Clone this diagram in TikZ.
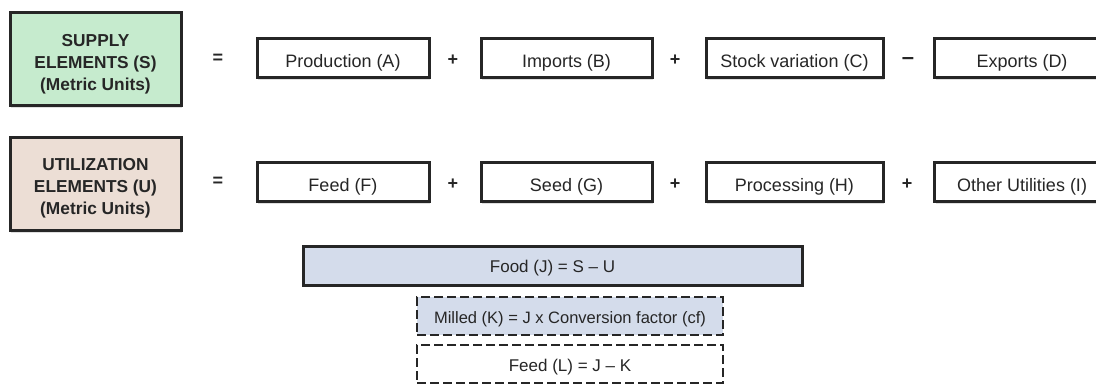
\documentclass[tikz,border=0pt]{standalone}
\usepackage{fontspec}
\setmainfont{Liberation Sans}
\usepackage{xcolor}
\usetikzlibrary{shadows}
\definecolor{supplygreen}{RGB}{198,235,206}
\definecolor{utilpink}{RGB}{236,222,213}
\definecolor{foodblue}{RGB}{212,220,235}
\begin{document}
\begin{tikzpicture}[x=1pt, y=-1pt,
    every node/.style={font=\fontsize{18}{22}\selectfont, text=black!85},
    elem/.style={draw=black!85, line width=3pt, minimum width=171pt, minimum height=93pt,
        drop shadow={opacity=0.25, shadow xshift=1pt, shadow yshift=-2pt}},
    elemtext/.style={align=center, font=\fontsize{17.3}{21.8}\selectfont\bfseries},
    term/.style={draw=black!85, line width=3pt, fill=white, minimum height=39pt,
        text height=18pt, text depth=0pt,
        drop shadow={opacity=0.25, shadow xshift=1pt, shadow yshift=-2pt}},
    dashbox/.style={draw=black!85, line width=2.8pt, dash pattern=on 9pt off 4pt,
        minimum width=306pt, minimum height=38pt, text height=15pt, text depth=0pt},
    op/.style={font=\fontsize{18}{22}\selectfont\bfseries}]
    \useasboundingbox (0, 0) rectangle (1096, 385);
    % left hand side
    \node[elem, fill=supplygreen] (supply) at (95.5, 59.5) {};
    \node[elemtext] (supplytxt) at ([yshift=-4.5pt]supply.center) {SUPPLY\\ELEMENTS (S)\\(Metric Units)};
    \node[elem, fill=utilpink] (util) at (95.5, 184) {};
    \node[elemtext] (utiltxt) at ([yshift=-4.5pt]util.center) {UTILIZATION\\ELEMENTS (U)\\(Metric Units)};
    \node[op] (eqS) at (218, 58.5) {=};
    \node[op] (eqU) at (218, 182) {=};
    % supply terms
    \node[term, minimum width=172pt] (prod)   at (343, 58.5)    {Production (A)};
    \node[op]                        (opA)    at (453, 60)      {+};
    \node[term, minimum width=171pt] (imp)    at (566.5, 58.5)  {Imports (B)};
    \node[op]                        (opB)    at (675, 60)      {+};
    \node[term, minimum width=177pt] (stock)  at (794.5, 58.5)  {Stock variation (C)};
    \node[op, font=\fontsize{22}{22}\selectfont\bfseries] (opC) at (908, 61) {--};
    \node[term, minimum width=175pt] (exp)    at (1022, 58.5)   {Exports (D)};
    % utilization terms
    \node[term, minimum width=172pt] (feed)   at (343, 182.5)   {Feed (F)};
    \node[op]                        (opF)    at (453, 184)     {+};
    \node[term, minimum width=171pt] (seed)   at (566.5, 182.5) {Seed (G)};
    \node[op]                        (opG)    at (675, 184)     {+};
    \node[term, minimum width=177pt] (proc)   at (794.5, 182.5) {Processing (H)};
    \node[op]                        (opH)    at (907, 184)     {+};
    \node[term, minimum width=175pt] (other)  at (1022, 182.5)  {Other Utilities (I)};
    % derived quantities
    \node[term, fill=foodblue, minimum width=499pt, text height=14pt,
        font=\fontsize{17}{22}\selectfont] (food) at (552.5, 265.5) {Food (J) = S -- U};
    \node[dashbox, fill=foodblue, font=\fontsize{16.5}{22}\selectfont] (milled) at (570, 316) {Milled (K) = J x Conversion factor (cf)};
    \node[dashbox, fill=white, font=\fontsize{17}{22}\selectfont] (feedL) at (570, 364) {Feed (L) = J -- K};
\end{tikzpicture}
\end{document}
